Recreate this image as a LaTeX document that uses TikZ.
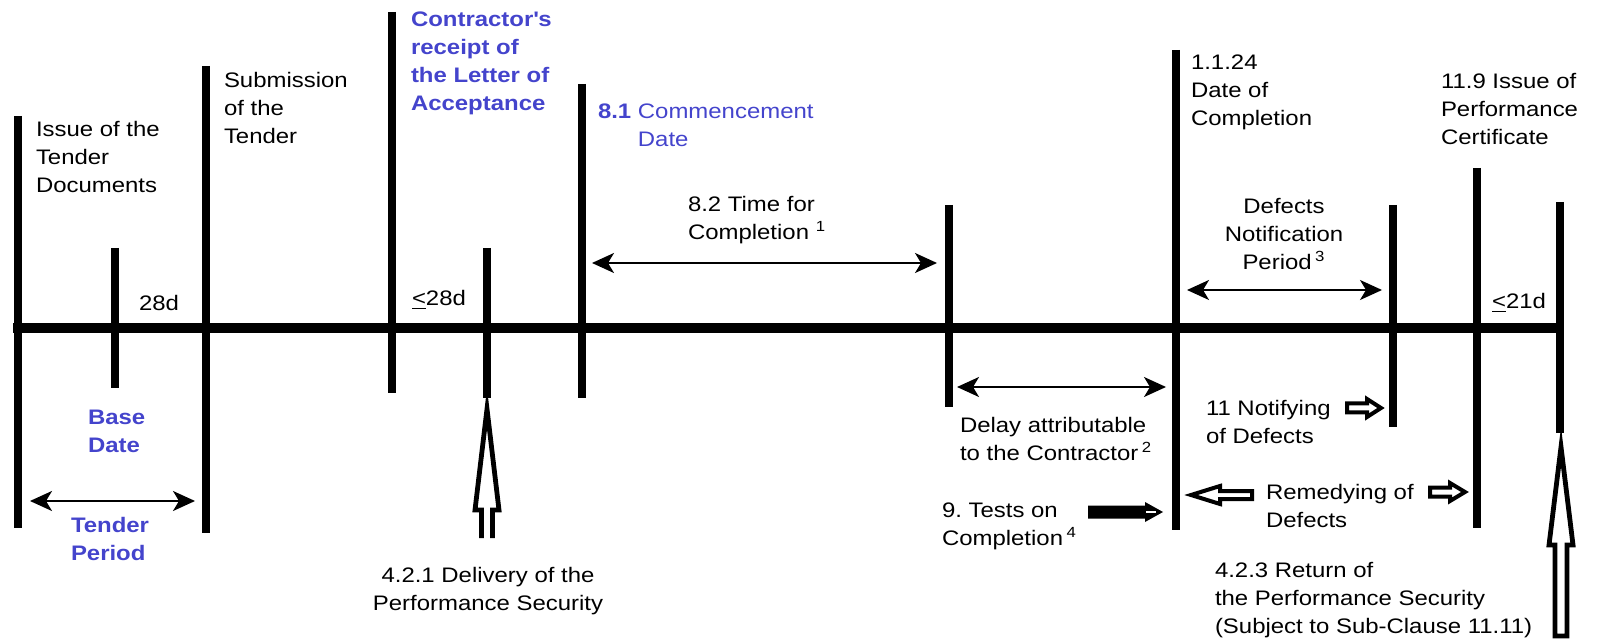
\documentclass[tikz,border=0pt]{standalone}
\usepackage{fontspec}
\setmainfont[FakeStretch=1.14]{Liberation Sans}
\usetikzlibrary{arrows.meta}
\definecolor{fblue}{RGB}{68,68,204}
\frenchspacing
\begin{document}
\begin{tikzpicture}[x=0.5pt,y=-0.5pt,
  txt/.style={inner sep=0pt, outer sep=0pt, anchor=north west, align=left, font=\fontsize{10.5}{14}\selectfont},
  ctxt/.style={txt, anchor=north, align=center},
  btxt/.style={txt, text=fblue, font=\fontsize{10.5}{14}\selectfont\bfseries},
  bar/.style={line width=4pt},
  axisline/.style={line width=5pt},
  span/.style={line width=1pt, {Stealth[length=11pt,width=10pt,inset=3pt]}-{Stealth[length=11pt,width=10pt,inset=3pt]}},
  hollow/.style={line width=2pt, line join=miter, fill=white},
  hollowthick/.style={line width=2.4pt, line join=miter, fill=white},
]
\useasboundingbox (0,0) rectangle (1600,641);

% main axis
\coordinate (ax1) at (13,328);
\coordinate (ax2) at (1564,328);
\draw[axisline] (ax1) -- (ax2);

% vertical bars
\foreach \n/\x/\ya/\yb in {1/18/116/528, 2/115/248/388, 3/206/66/533, 4/392/12/393,
  5/487/248/398, 6/582/84/398, 7/949/205/407, 8/1176/50/530, 9/1393/205/427,
  10/1477/168/528, 11/1560/202/433}{
  \coordinate (bt\n) at (\x,\ya);
  \coordinate (bb\n) at (\x,\yb);
  \draw[bar] (bt\n) -- (bb\n);
}

% span arrows
\coordinate (tpa) at (30,501); \coordinate (tpb) at (195,501);
\draw[span] (tpa) -- (tpb);
\coordinate (tca) at (592,263); \coordinate (tcb) at (937,263);
\draw[span] (tca) -- (tcb);
\coordinate (dna) at (1187,290); \coordinate (dnb) at (1382,290);
\draw[span] (dna) -- (dnb);
\coordinate (dla) at (957,387); \coordinate (dlb) at (1166,387);
\draw[span] (dla) -- (dlb);

% big hollow up arrows
\draw[hollowthick] (481.5,538) -- (481.5,510) -- (475,510) -- (487,409) -- (499,510) -- (492.5,510) -- (492.5,538);
\draw[hollowthick] (1555,636) -- (1555,545) -- (1549,545) -- (1561,447) -- (1573,545) -- (1567,545) -- (1567,636) -- cycle;

% tests on completion arrow
\fill (1088,505.5) -- (1145,505.5) -- (1145,502) -- (1163,512) -- (1145,522) -- (1145,518.5) -- (1088,518.5) -- cycle;
\draw[white, line width=0.8pt] (1146,512) -- (1156,512);

% small hollow arrows
\draw[hollow] (1347,403.5) -- (1367,403.5) -- (1367,399) -- (1381,408) -- (1367,417) -- (1367,412.5) -- (1347,412.5) -- cycle;
\draw[hollow] (1430,487.5) -- (1450,487.5) -- (1450,483) -- (1465,492) -- (1450,501) -- (1450,496.5) -- (1430,496.5) -- cycle;
\draw[hollow] (1252,491) -- (1220,491) -- (1220,486) -- (1191,495) -- (1220,504) -- (1220,499) -- (1252,499) -- cycle;

% texts
\node[txt] (t1) at (36,121) {Issue of the\\Tender\\Documents};
\node[txt] (t2) at (224,72) {Submission\\of the\\Tender};
\node[btxt] (t3) at (411,12) {Contractor\textquotesingle s\\receipt of\\the Letter of\\Acceptance};
\node[txt, text=fblue] (t4) at (598,104) {\textbf{8.1} Commencement\\\phantom{\textbf{8.1} }Date};
\node[txt] (t5) at (688,196) {8.2 Time for\\Completion \textsuperscript{1}};
\node[txt] (t6) at (139,295) {28d};
\node[txt] (t7) at (412,290) {\underline{<}28d};
\node[btxt] (t8) at (88,410) {Base\\Date};
\node[btxt] (t9) at (71,517) {Tender\\Period};
\node[ctxt] (t10) at (488,567) {4.2.1 Delivery of the\\Performance Security};
\node[txt] (t11) at (1191,55) {1.1.24\\Date of\\Completion};
\node[ctxt] (t12) at (1284,198) {Defects\\Notification\\Period\,\textsuperscript{3}};
\node[txt] (t13) at (1441,73) {11.9 Issue of\\Performance\\Certificate};
\node[txt] (t14) at (1492,293) {\underline{<}21d};
\node[txt] (t15) at (960,417) {Delay attributable\\to the Contractor\,\textsuperscript{2}};
\node[txt] (t16) at (942,503) {9. Tests on\\Completion\,\textsuperscript{4}};
\node[txt] (t17) at (1206,400) {11 Notifying\\of Defects};
\node[txt] (t18) at (1266,484) {Remedying of\\Defects};
\node[txt] (t19) at (1215,562) {4.2.3 Return of\\the Performance Security\\(Subject to Sub-Clause 11.11)};
\end{tikzpicture}
\end{document}
